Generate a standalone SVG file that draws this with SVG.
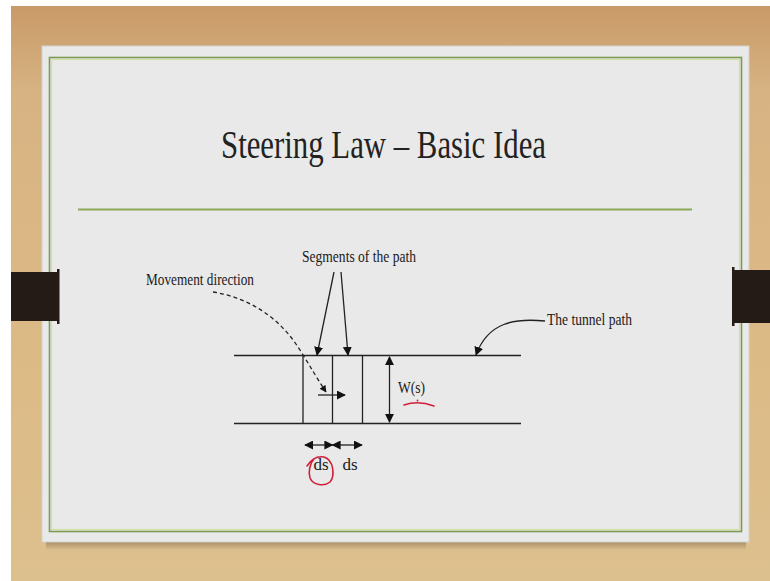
<svg xmlns="http://www.w3.org/2000/svg" width="770" height="581" viewBox="0 0 770 581">
<style>
.ln{stroke:#222;stroke-width:1.6;fill:none}
.thin{stroke:#222;stroke-width:1.3;fill:none}
.lbl{font-family:"Liberation Serif",serif;font-size:17px;fill:#1a1a1a}
.red{stroke:#d0203a;stroke-width:1.6;fill:none;stroke-linecap:round}
</style>
<defs>
<linearGradient id="wood" x1="0" y1="0" x2="0" y2="1">
<stop offset="0" stop-color="#c99a68"/>
<stop offset="0.15" stop-color="#d7b383"/>
<stop offset="0.6" stop-color="#dcba86"/>
<stop offset="1" stop-color="#dcc08e"/>
</linearGradient>
<linearGradient id="shade" x1="0" y1="0" x2="0" y2="1">
<stop offset="0" stop-color="#8a7050" stop-opacity="0.6"/>
<stop offset="1" stop-color="#8a7050" stop-opacity="0"/>
</linearGradient>
<marker id="ah" viewBox="0 0 10 10" refX="9" refY="5" markerWidth="7" markerHeight="7" orient="auto-start-reverse" markerUnits="userSpaceOnUse">
<path d="M0,0 L10,5 L0,10 z" fill="#111"/>
</marker>
<marker id="ahb" viewBox="0 0 10 10" refX="9" refY="5" markerWidth="9" markerHeight="9" orient="auto-start-reverse" markerUnits="userSpaceOnUse">
<path d="M0,0 L10,5 L0,10 z" fill="#111"/>
</marker>
</defs>
<g id="background">
<rect x="0" y="0" width="770" height="581" fill="#ffffff"/>
<rect x="11" y="6" width="759" height="575" fill="url(#wood)"/>
<rect x="46" y="542" width="700" height="8" fill="url(#shade)"/>
<rect x="42" y="46" width="707" height="496" fill="#e9e9e9" stroke="#d2d2cc" stroke-width="1"/>
<rect x="49.5" y="57.5" width="692" height="474" fill="none" stroke="#7c9a52" stroke-width="1.6"/>
<rect x="51.5" y="59.5" width="688" height="470" fill="none" stroke="#d3e0a4" stroke-width="1.2"/>
<rect x="11" y="272" width="48" height="49" fill="#241a16"/>
<rect x="57" y="269" width="2.5" height="55" fill="#241a16"/>
<rect x="733" y="270" width="37" height="53" fill="#241a16"/>
<rect x="732" y="267" width="2.5" height="59" fill="#241a16"/>
</g>
<g id="title">
<text x="221" y="158" font-family="Liberation Serif, serif" font-size="39" fill="#222" textLength="325" lengthAdjust="spacingAndGlyphs">Steering Law – Basic Idea</text>
<line x1="78" y1="209.5" x2="692" y2="209.5" stroke="#8aa858" stroke-width="2"/>
</g>
<g id="tunnel">
<line class="ln" x1="234" y1="355.5" x2="521" y2="355.5"/>
<line class="ln" x1="234" y1="423.5" x2="521" y2="423.5"/>
<line class="thin" x1="303" y1="355.5" x2="303" y2="423.5"/>
<line class="thin" x1="332.5" y1="355.5" x2="332.5" y2="423.5"/>
<line class="thin" x1="362.5" y1="355.5" x2="362.5" y2="423.5"/>
</g>
<g id="labels">
<text class="lbl" x="146" y="285" textLength="108" lengthAdjust="spacingAndGlyphs">Movement  direction</text>
<text class="lbl" x="302" y="262" textLength="114" lengthAdjust="spacingAndGlyphs">Segments  of the path</text>
<text class="lbl" x="547" y="325" textLength="85" lengthAdjust="spacingAndGlyphs">The tunnel  path</text>
<text class="lbl" x="398" y="393" textLength="27" lengthAdjust="spacingAndGlyphs">W(s)</text>
<text class="lbl" x="321" y="470" text-anchor="middle">ds</text>
<text class="lbl" x="350" y="470" text-anchor="middle">ds</text>
</g>
<g id="connectors">
<path class="thin" d="M213,292 C250,298 280,318 300,350 C310,366 318,380 326,392" stroke-dasharray="4,3" marker-end="url(#ah)"/>
<line class="thin" x1="318" y1="395" x2="345" y2="395" marker-end="url(#ahb)"/>
<line class="thin" x1="334" y1="272" x2="317" y2="355" marker-end="url(#ahb)"/>
<line class="thin" x1="341" y1="272" x2="348" y2="355" marker-end="url(#ahb)"/>
<path class="thin" d="M545,321 C515,318 488,322 476,355" marker-end="url(#ahb)"/>
<line class="thin" x1="389.5" y1="357" x2="389.5" y2="422" marker-start="url(#ahb)" marker-end="url(#ahb)"/>
<line class="thin" x1="305" y1="445" x2="332.5" y2="445" marker-start="url(#ahb)" marker-end="url(#ahb)"/>
<line class="thin" x1="332.5" y1="445" x2="362" y2="445" marker-start="url(#ahb)" marker-end="url(#ahb)"/>
</g>
<g id="annotations">
<path class="red" d="M404,405 Q418,400 434,406"/>
<circle cx="417.5" cy="400.5" r="0.9" fill="#d0203a"/>
<path class="red" d="M307,466 C312,458 318,456 324,457 C334,460 335,476 330,482 C324,487 313,485 310,478 C308,472 310,463 314,459"/>
</g>
</svg>
